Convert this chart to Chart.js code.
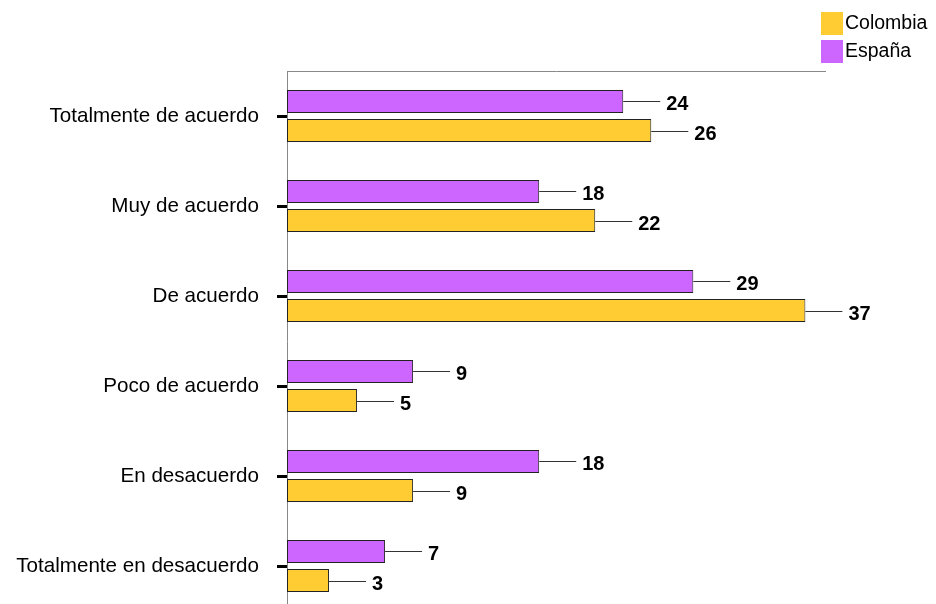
<!DOCTYPE html>
<html>
<head>
<meta charset="utf-8">
<script src="https://cdn.jsdelivr.net/npm/chart.js@4/dist/chart.umd.min.js"></script>
<style>
  html, body { margin: 0; padding: 0; background: #fff; }
  #wrap { width: 936px; height: 604px; overflow: hidden; position: relative; }
  canvas { display: block; }
</style>
</head>
<body>
<div id="wrap"><canvas id="c" width="936" height="611"></canvas></div>
<script>
const categories = [
  'Totalmente de acuerdo',
  'Muy de acuerdo',
  'De acuerdo',
  'Poco de acuerdo',
  'En desacuerdo',
  'Totalmente en desacuerdo'
];
const espana = [24, 18, 29, 9, 18, 7];
const colombia = [26, 22, 37, 5, 9, 3];

const FONT = "'Liberation Sans', Arial, Helvetica, sans-serif";

// Leader line + bold value beside the end of every bar
const valueLabels = {
  id: 'valueLabels',
  afterDatasetsDraw(chart) {
    const ctx = chart.ctx;
    ctx.save();
    chart.data.datasets.forEach((ds, di) => {
      const meta = chart.getDatasetMeta(di);
      meta.data.forEach((bar, i) => {
        const x = bar.x, y = Math.round(bar.y) + 0.5;
        ctx.strokeStyle = '#333';
        ctx.lineWidth = 1;
        ctx.beginPath();
        ctx.moveTo(x, y);
        ctx.lineTo(x + 37, y);
        ctx.stroke();
        ctx.fillStyle = '#000';
        ctx.font = 'bold 20px ' + FONT;
        ctx.textAlign = 'left';
        ctx.textBaseline = 'middle';
        ctx.fillText(String(ds.data[i]), x + 43, y + 3);
      });
    });
    ctx.restore();
  }
};

// Legend in the top-right corner, Colombia listed first
const cornerLegend = {
  id: 'cornerLegend',
  afterDraw(chart) {
    const ctx = chart.ctx;
    ctx.save();
    const items = chart.data.datasets.slice().reverse();
    items.forEach((ds, k) => {
      const top = 12 + k * 28;
      ctx.fillStyle = ds.backgroundColor;
      ctx.fillRect(821, top, 22, 23);
      ctx.fillStyle = '#000';
      ctx.font = '19.5px ' + FONT;
      ctx.textAlign = 'left';
      ctx.textBaseline = 'middle';
      ctx.fillText(ds.label, 845, top + 12);
    });
    ctx.restore();
  }
};

new Chart(document.getElementById('c'), {
  type: 'bar',
  data: {
    labels: categories,
    datasets: [
      {
        label: 'España',
        data: espana,
        backgroundColor: '#CC66FF',
        borderColor: '#222222',
        borderWidth: 1,
        borderSkipped: false
      },
      {
        label: 'Colombia',
        data: colombia,
        backgroundColor: '#FFCC33',
        borderColor: '#222222',
        borderWidth: 1,
        borderSkipped: false
      }
    ]
  },
  options: {
    indexAxis: 'y',
    responsive: false,
    animation: false,
    devicePixelRatio: 1,
    categoryPercentage: 0.647,
    barPercentage: 0.79,
    layout: { padding: { top: 71, right: 111, bottom: 0, left: 0 } },
    plugins: {
      legend: { display: false },
      tooltip: { enabled: false }
    },
    scales: {
      x: {
        position: 'top',
        min: 0,
        max: 38.4,
        ticks: { display: false },
        grid: { display: false },
        border: { display: true, color: '#888888', width: 1 },
        afterFit(scale) { scale.height = 0; }
      },
      y: {
        position: 'left',
        grid: {
          display: true,
          drawOnChartArea: false,
          offset: false,
          tickLength: 10,
          tickWidth: 3,
          tickColor: '#000000'
        },
        border: { display: true, color: '#888888', width: 1 },
        ticks: {
          color: '#000000',
          padding: 18,
          font: { size: 20.6, family: FONT }
        },
        afterFit(scale) {
          scale.width = 287;
          scale.paddingTop = 0;
          scale.paddingBottom = 0;
        }
      }
    }
  },
  plugins: [valueLabels, cornerLegend]
});
</script>
</body>
</html>
